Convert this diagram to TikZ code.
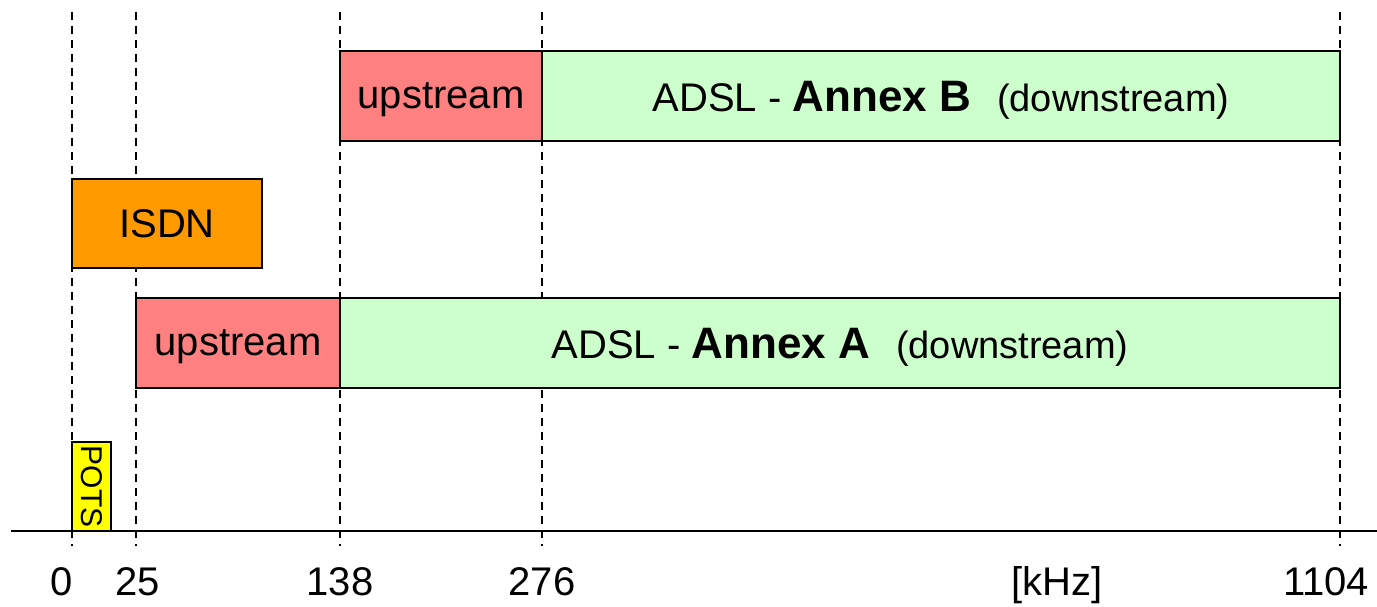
\documentclass[tikz,border=0pt]{standalone}
\usepackage{fontspec}
\setmainfont{Liberation Sans}
\definecolor{upred}{RGB}{255,128,128}
\definecolor{dsgreen}{RGB}{204,255,204}
\definecolor{isdnorange}{RGB}{255,153,0}
\definecolor{potsyellow}{RGB}{255,255,0}
\begin{document}
\begin{tikzpicture}[x=1pt,y=-1pt,
  band/.style={draw=black, line width=2pt, minimum height=90pt, inner sep=0pt, outer sep=0pt, anchor=north west, font=\fontsize{40}{48}\selectfont},
  flat/.style={text depth=0pt},
  gridline/.style={dash pattern=on 8pt off 6pt, line width=1.6pt},
  ticklabel/.style={font=\fontsize{40}{48}\selectfont, anchor=base, inner sep=0pt},
]
\useasboundingbox (0,0) rectangle (1377,607);
% frequency grid lines
\foreach \x in {72,136,340,542,1340}
  \draw[gridline] (\x,12) -- (\x,546);
% axis
\coordinate (axl) at (11,531);
\coordinate (axr) at (1377,531);
% bands
\node[band, flat, fill=upred, minimum width=202pt] (bup) at (340,51) {upstream};
\node[band, flat, fill=dsgreen, minimum width=798pt] (bdown) at (542,51) {ADSL - {\fontsize{44}{50}\selectfont\textbf{Annex B}}\hspace{26pt}{\fontsize{38}{44}\selectfont(downstream)}};
\node[band, flat, fill=isdnorange, minimum width=190pt, minimum height=89pt] (isdn) at (72,179) {ISDN};
\node[band, flat, fill=upred, minimum width=204pt] (aup) at (136,298) {upstream};
\node[band, flat, fill=dsgreen, minimum width=1000pt] (adown) at (340,298) {ADSL - {\fontsize{44}{50}\selectfont\textbf{Annex A}}\hspace{26pt}{\fontsize{38}{44}\selectfont(downstream)}};
\node[band, fill=potsyellow, minimum width=39pt, minimum height=89pt] (pots) at (72,442) {\rotatebox{-90}{\fontsize{30}{36}\selectfont POTS}};
\draw[line width=2pt] (axl) -- (axr);
% tick labels
\node[ticklabel] (t0) at (62,595) {0};
\node[ticklabel] (t25) at (138,595) {25};
\node[ticklabel] (t138) at (340,595) {138};
\node[ticklabel] (t276) at (542,595) {276};
\node[ticklabel] (tkhz) at (1057,595) {[kHz]};
\node[ticklabel] (t1104) at (1326,595) {1104};
\end{tikzpicture}
\end{document}
